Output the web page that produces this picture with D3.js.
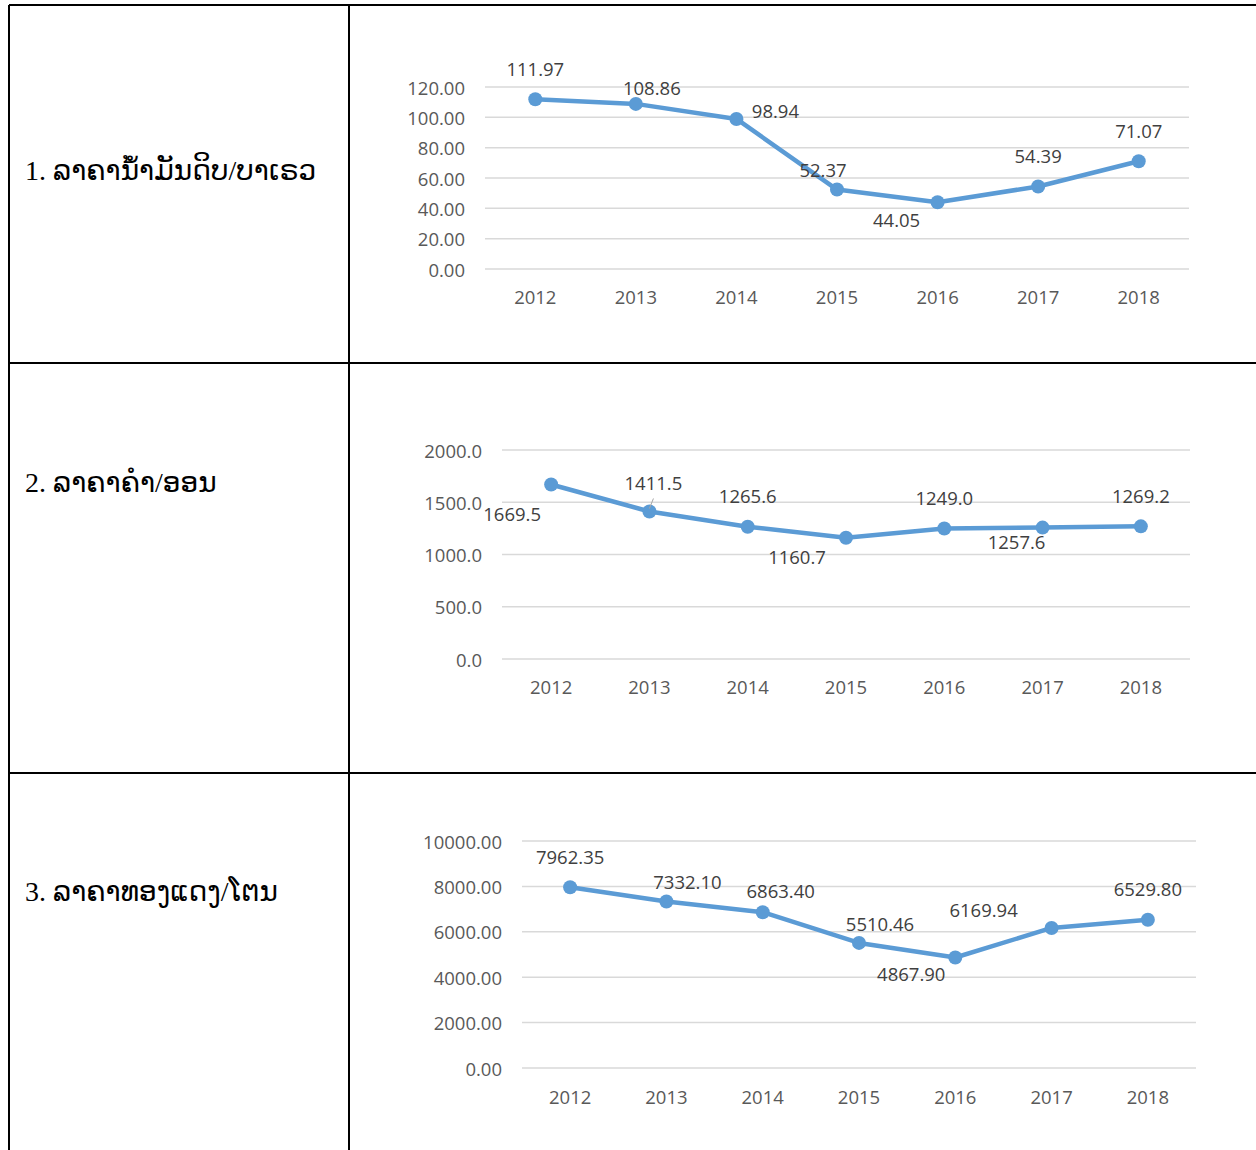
<!DOCTYPE html>
<html><head><meta charset="utf-8">
<script src="https://cdn.jsdelivr.net/npm/d3@7"></script>
<style>body{margin:0;background:#fff}svg{display:block}</style>
</head><body>
<svg id="c" width="1256" height="1150"></svg>
<script>
const years = ["2012","2013","2014","2015","2016","2017","2018"];
const oilValues = [111.97,108.86,98.94,52.37,44.05,54.39,71.07];
const goldValues = [1669.5,1411.5,1265.6,1160.7,1249.0,1257.6,1269.2];
const copperValues = [7962.35,7332.10,6863.40,5510.46,4867.90,6169.94,6529.80];
const oilLabels = ["111.97","108.86","98.94","52.37","44.05","54.39","71.07"];
const goldLabels = ["1669.5","1411.5","1265.6","1160.7","1249.0","1257.6","1269.2"];
const copperLabels = ["7962.35","7332.10","6863.40","5510.46","4867.90","6169.94","6529.80"];
const oilTicks = [0,20,40,60,80,100,120];
const goldTicks = [0,500,1000,1500,2000];
const copperTicks = [0,2000,4000,6000,8000,10000];
const rowLabels = ["1. ລາຄານ້ຳມັນດິບ/ບາເຣວ","2. ລາຄາຄຳ/ອອນ","3. ລາຄາທອງແດງ/ໂຕນ"];

const svg = d3.select("#c");
const BLUE = "#5B9BD5", TXT = "#595959", GRID = "#d9d9d9";
const FONT = "'Open Sans', 'Liberation Sans', sans-serif";

// table
const tbl = svg.append("g").attr("stroke","#000").attr("stroke-width",2);
[[9,5,9,1150],[349,5,349,1150],[9,5,1256,5],[9,363,1256,363],[9,773,1256,773]]
  .forEach(l=>tbl.append("line").attr("x1",l[0]).attr("y1",l[1]).attr("x2",l[2]).attr("y2",l[3]));

const rowY = [170, 482, 891];
rowLabels.forEach((t,i)=>{
  svg.append("text").attr("x",25).attr("y",rowY[i]).attr("dominant-baseline","central")
    .attr("font-family","'Liberation Serif','DejaVu Serif','DejaVu Sans',serif")
    .attr("font-size",28).attr("fill","#000").text(t);
});

const charts = [
  {values:oilValues, labels:oilLabels, ticks:oilTicks, max:120, fmt:d3.format(".2f"),
   x0:485, x1:1189, yTop:87, yBot:269, tickX:465, yearY:296,
   off:[[0,-31],[16,-16],[39,-8],[-14,-20],[-41,17],[0,-31],[0,-31]]},
  {values:goldValues, labels:goldLabels, ticks:goldTicks, max:2000, fmt:d3.format(".1f"),
   x0:502, x1:1190, yTop:450, yBot:659, tickX:482, yearY:686,
   off:[[-39,29],[4,-29],[0,-31],[-49,19],[0,-31],[-26,14],[0,-31]], leader:1},
  {values:copperValues, labels:copperLabels, ticks:copperTicks, max:10000, fmt:d3.format(".2f"),
   x0:522, x1:1196, yTop:841, yBot:1068, tickX:502, yearY:1096,
   off:[[0,-31],[21,-20],[18,-22],[21,-19],[-44,16],[-68,-18],[0,-31]]}
];

charts.forEach(c=>{
  const g = svg.append("g");
  const x = d3.scaleBand().domain(years).range([c.x0,c.x1]);
  const y = d3.scaleLinear().domain([0,c.max]).range([c.yBot,c.yTop]);
  const cx = d => x(d)+x.bandwidth()/2;
  g.selectAll(".grid").data(c.ticks).join("line")
    .attr("x1",c.x0).attr("x2",c.x1).attr("y1",d=>y(d)).attr("y2",d=>y(d))
    .attr("stroke",GRID).attr("stroke-width",1.5);
  g.selectAll(".yt").data(c.ticks).join("text")
    .attr("x",c.tickX).attr("y",d=>y(d)).attr("text-anchor","end").attr("dominant-baseline","central")
    .attr("font-family",FONT).attr("font-size",18.5).attr("fill",TXT).text(d=>c.fmt(d));
  g.selectAll(".xt").data(years).join("text")
    .attr("x",d=>cx(d)).attr("y",c.yearY).attr("text-anchor","middle").attr("dominant-baseline","central")
    .attr("font-family",FONT).attr("font-size",18.5).attr("fill",TXT).text(d=>d);
  const pts = years.map((yr,i)=>[cx(yr), y(c.values[i])]);
  g.append("path").attr("d",d3.line()(pts)).attr("fill","none").attr("stroke",BLUE)
    .attr("stroke-width",4.5).attr("stroke-linejoin","round").attr("stroke-linecap","round");
  g.selectAll(".pt").data(pts).join("circle").attr("cx",d=>d[0]).attr("cy",d=>d[1]).attr("r",7).attr("fill",BLUE);
  if(c.leader!==undefined){
    const p = pts[c.leader];
    g.append("line").attr("x1",p[0]).attr("y1",p[1]-3).attr("x2",p[0]+4).attr("y2",p[1]-13)
      .attr("stroke","#a6a6a6").attr("stroke-width",1);
  }
  g.selectAll(".dl").data(pts).join("text")
    .attr("x",(d,i)=>d[0]+c.off[i][0]).attr("y",(d,i)=>d[1]+c.off[i][1])
    .attr("text-anchor","middle").attr("dominant-baseline","central")
    .attr("font-family",FONT).attr("font-size",18.5).attr("fill","#404040").text((d,i)=>c.labels[i]);
});
</script>
</body></html>
